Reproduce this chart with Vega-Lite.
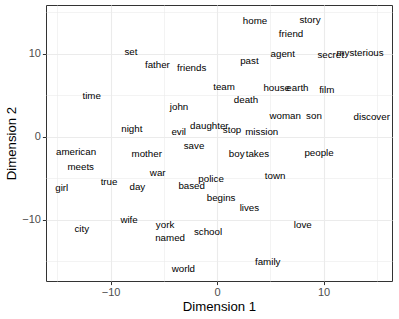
{
  "$schema": "https://vega.github.io/schema/vega-lite/v6.json",
  "width": 346,
  "height": 276,
  "autosize": {"type": "none"},
  "padding": {"left": 46, "top": 5, "right": 7, "bottom": 38},
  "background": "white",
  "config": {
    "view": {"stroke": "#333333", "strokeWidth": 1},
    "font": "Liberation Sans",
    "axis": {
      "domain": false,
      "gridColor": "#EBEBEB",
      "gridWidth": {"condition": {"test": "datum.value % 10 !== 0", "value": 0.6}, "value": 1.1},
      "tickColor": "#333333",
      "tickSize": 3.6,
      "tickWidth": 1,
      "tickOpacity": {"condition": {"test": "datum.value % 10 !== 0", "value": 0}, "value": 1},
      "labelColor": "#4D4D4D",
      "labelFontSize": 11,
      "labelPadding": 2,
      "labelFont": "Liberation Sans",
      "titleFont": "Liberation Sans",
      "titleFontSize": 13.2,
      "titleFontWeight": "normal",
      "titleColor": "#000000"
    }
  },
  "data": {
    "values": [
      {"word": "set", "x": -8.08, "y": 10.24},
      {"word": "father", "x": -5.6, "y": 8.67},
      {"word": "friends", "x": -2.38, "y": 8.35},
      {"word": "time", "x": -11.77, "y": 4.94},
      {"word": "john", "x": -3.57, "y": 3.65},
      {"word": "night", "x": -8.0, "y": 0.93},
      {"word": "evil", "x": -3.6, "y": 0.6},
      {"word": "daughter", "x": -0.72, "y": 1.3},
      {"word": "team", "x": 0.66, "y": 6.06},
      {"word": "home", "x": 3.57, "y": 13.98},
      {"word": "story", "x": 8.73, "y": 14.1},
      {"word": "friend", "x": 6.95, "y": 12.41},
      {"word": "agent", "x": 6.17, "y": 10.0},
      {"word": "past", "x": 3.04, "y": 9.2},
      {"word": "secret", "x": 10.67, "y": 9.88},
      {"word": "mysterious", "x": 13.43, "y": 10.08},
      {"word": "house", "x": 5.6, "y": 5.94},
      {"word": "earth", "x": 7.55, "y": 5.94},
      {"word": "film", "x": 10.3, "y": 5.66},
      {"word": "death", "x": 2.72, "y": 4.46},
      {"word": "woman", "x": 6.4, "y": 2.57},
      {"word": "son", "x": 9.1, "y": 2.57},
      {"word": "discover", "x": 14.53, "y": 2.45},
      {"word": "stop", "x": 1.41, "y": 0.84},
      {"word": "mission", "x": 4.2, "y": 0.6},
      {"word": "american", "x": -13.24, "y": -1.77},
      {"word": "meets", "x": -12.8, "y": -3.58},
      {"word": "mother", "x": -6.6, "y": -2.05},
      {"word": "save", "x": -2.16, "y": -1.08},
      {"word": "war", "x": -5.57, "y": -4.38},
      {"word": "girl", "x": -14.58, "y": -6.1},
      {"word": "true", "x": -10.14, "y": -5.46},
      {"word": "day", "x": -7.48, "y": -5.98},
      {"word": "based", "x": -2.38, "y": -5.9},
      {"word": "police", "x": -0.56, "y": -5.06},
      {"word": "begins", "x": 0.38, "y": -7.35},
      {"word": "wife", "x": -8.26, "y": -10.0},
      {"word": "city", "x": -12.7, "y": -11.08},
      {"word": "york", "x": -4.88, "y": -10.6},
      {"word": "named", "x": -4.41, "y": -12.13},
      {"word": "school", "x": -0.85, "y": -11.4},
      {"word": "world", "x": -3.16, "y": -15.9},
      {"word": "boy", "x": 1.85, "y": -2.05},
      {"word": "takes", "x": 3.79, "y": -2.05},
      {"word": "people", "x": 9.58, "y": -1.97},
      {"word": "town", "x": 5.45, "y": -4.7},
      {"word": "lives", "x": 3.04, "y": -8.51},
      {"word": "love", "x": 8.05, "y": -10.6},
      {"word": "family", "x": 4.76, "y": -15.02}
    ]
  },
  "mark": {"type": "text", "fontSize": 9.75, "color": "#000000", "font": "Liberation Sans", "align": "center", "baseline": "middle", "clip": true},
  "encoding": {
    "x": {
      "field": "x", "type": "quantitative", "title": "Dimension 1",
      "scale": {"domain": [-16.06, 16.43], "nice": false, "zero": false},
      "axis": {"values": [-15, -10, -5, 0, 5, 10, 15], "labelExpr": "datum.value % 10 === 0 ? datum.label : ''", "titlePadding": 3}
    },
    "y": {
      "field": "y", "type": "quantitative", "title": "Dimension 2",
      "scale": {"domain": [-17.35, 15.9], "nice": false, "zero": false},
      "axis": {"values": [-15, -10, -5, 0, 5, 10, 15], "labelExpr": "datum.value % 10 === 0 ? datum.label : ''", "titlePadding": 3}
    },
    "text": {"field": "word", "type": "nominal"}
  }
}
